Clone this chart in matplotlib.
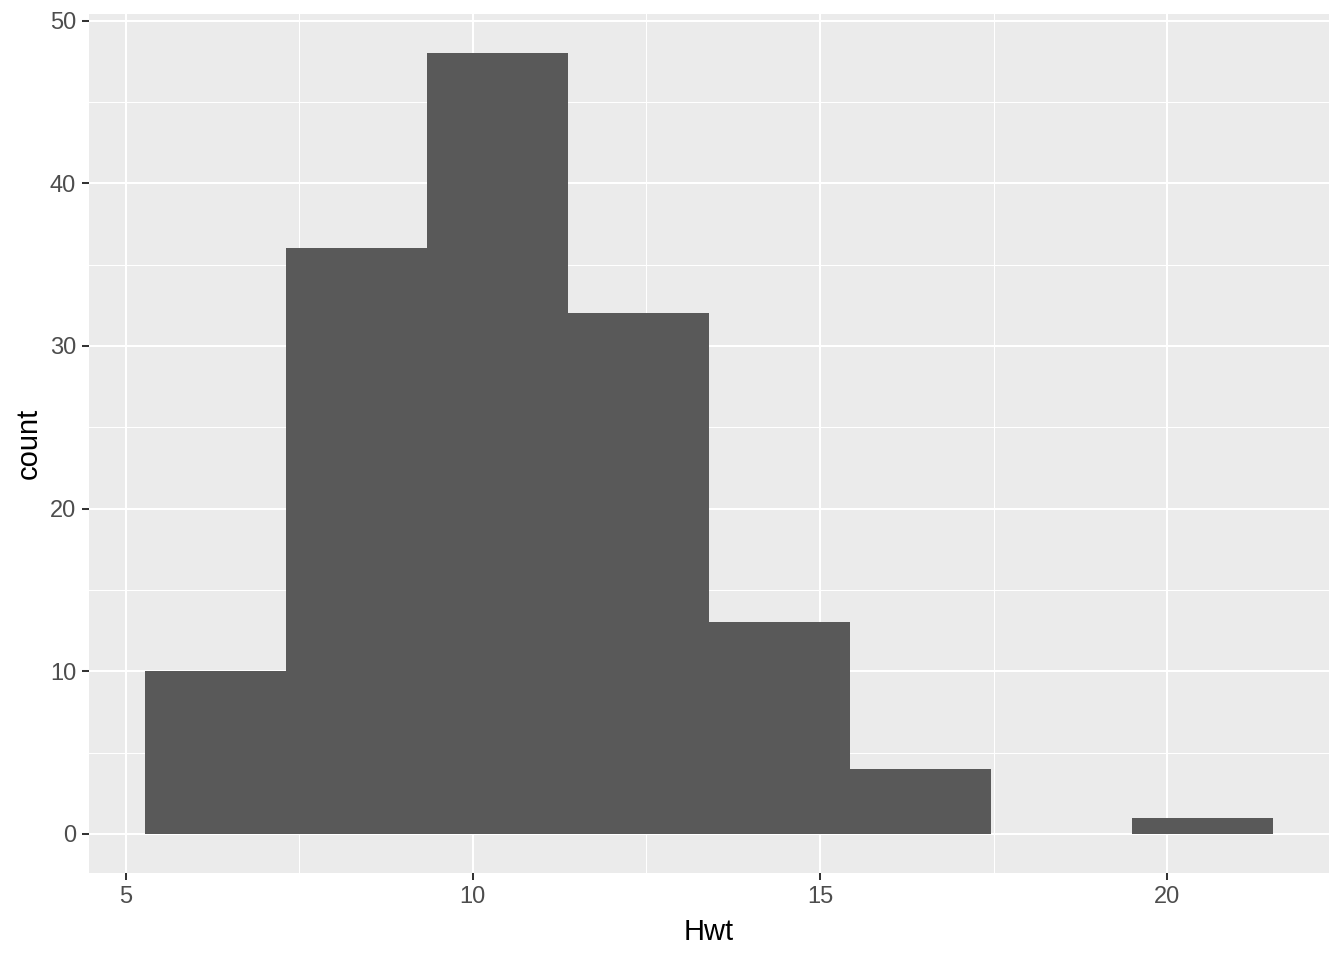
import numpy as np
import matplotlib
matplotlib.use("Agg")
import matplotlib.pyplot as plt

# histogram of Hwt (cats data), 8 bins as ggplot draws them
hwt_min = 6.3
hwt_max = 20.5
n_bins = 8
counts = [10, 36, 48, 32, 13, 4, 0, 1]

x_ticks = [5, 10, 15, 20]
y_ticks = [0, 10, 20, 30, 40, 50]

plt.rcParams["font.family"] = ["Liberation Sans", "DejaVu Sans"]

width = (hwt_max - hwt_min) / (n_bins - 1)
centers = hwt_min + width * np.arange(n_bins)
lefts = centers - width / 2

fig = plt.figure(figsize=(13.44, 9.6), dpi=100)
ax = fig.add_axes([89 / 1344, 1 - 873 / 960, (1329 - 89) / 1344, (873 - 14) / 960])
ax.set_facecolor("#EBEBEB")

ax.bar(lefts, counts, width=width, align="edge", color="#595959", linewidth=0, zorder=3)

span_x = lefts[-1] + width - lefts[0]
ax.set_xlim(lefts[0] - 0.05 * span_x, lefts[-1] + width + 0.05 * span_x)
ax.set_ylim(-0.05 * max(counts), max(counts) * 1.05)

ax.set_xticks(x_ticks)
ax.set_yticks(y_ticks)
ax.set_xticks([7.5, 12.5, 17.5], minor=True)
ax.set_yticks([5, 15, 25, 35, 45], minor=True)
ax.grid(which="major", color="white", linewidth=1.45, zorder=1)
ax.grid(which="minor", color="white", linewidth=0.72, zorder=1)
ax.set_axisbelow(True)

for s in ax.spines.values():
    s.set_visible(False)
ax.tick_params(which="major", length=5.2, width=1.45, color="#333333",
               labelsize=17, labelcolor="#4D4D4D", pad=4)
ax.tick_params(which="minor", length=0)

ax.set_xlabel("Hwt", fontsize=21, color="black", labelpad=7)
ax.set_ylabel("count", fontsize=21, color="black", labelpad=5)

fig.savefig("out.png", dpi=100)
